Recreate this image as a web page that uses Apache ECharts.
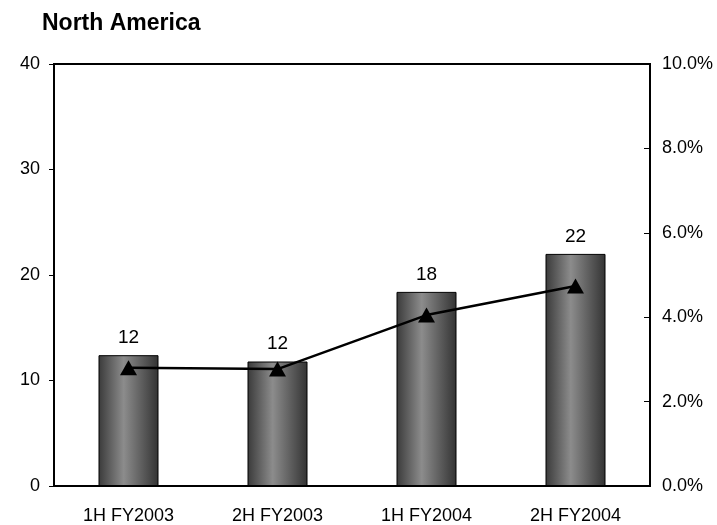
<!DOCTYPE html>
<html>
<head>
<meta charset="utf-8">
<script src="https://cdn.jsdelivr.net/npm/echarts@6/dist/echarts.min.js"></script>
<style>html,body{margin:0;padding:0;background:#fff}#c{width:717px;height:525px}</style>
</head>
<body>
<div id="c"></div>
<script>
const categories = ['1H FY2003', '2H FY2003', '1H FY2004', '2H FY2004'];
const barValues = [12.4, 11.8, 18.4, 22.0];
const lineValues = [2.8, 2.77, 4.05, 4.74];
const title = 'North America';

const chart = echarts.init(document.getElementById('c'), null, {renderer: 'canvas'});
const font = 'Arial, "Liberation Sans", sans-serif';
chart.setOption({
  animation: false,
  backgroundColor: '#fff',
  title: {
    text: title, left: 37, top: 7,
    textStyle: {fontFamily: font, fontSize: 23, fontWeight: 'bold', color: '#000'}
  },
  grid: {left: 54, right: 67, top: 64, bottom: 39, show: true, borderColor: '#000', borderWidth: 2, backgroundColor: 'transparent'},
  xAxis: {
    type: 'category', data: categories,
    axisLine: {lineStyle: {color: '#000', width: 2}},
    axisTick: {show: false},
    axisLabel: {color: '#000', fontFamily: font, fontSize: 18, margin: 21}
  },
  yAxis: [
    {
      type: 'value', min: 0, max: 40, interval: 10,
      axisLine: {show: true, lineStyle: {color: '#000', width: 2}},
      axisTick: {show: true, inside: false, length: 5, lineStyle: {color: '#000', width: 1}},
      splitLine: {show: false},
      axisLabel: {color: '#000', fontFamily: font, fontSize: 18, margin: 14}
    },
    {
      type: 'value', min: 0, max: 10, interval: 2, position: 'right',
      axisLine: {show: true, lineStyle: {color: '#000', width: 2}},
      axisTick: {show: true, inside: true, length: 6, lineStyle: {color: '#000', width: 1}},
      splitLine: {show: false},
      axisLabel: {color: '#000', fontFamily: font, fontSize: 18, margin: 12,
        formatter: v => v.toFixed(1) + '%'}
    }
  ],
  series: [
    {
      type: 'bar', data: barValues, barWidth: 60, yAxisIndex: 0,
      itemStyle: {
        color: new echarts.graphic.LinearGradient(0, 0, 1, 0, [
          {offset: 0, color: '#3a3a3a'},
          {offset: 0.42, color: '#8c8c8c'},
          {offset: 1, color: '#333333'}
        ]),
        borderColor: '#000', borderWidth: 1
      },
      label: {show: true, position: 'top', distance: 8, color: '#000', fontFamily: font, fontSize: 19,
        formatter: p => Math.round(p.value).toString()}
    },
    {
      type: 'line', data: lineValues, yAxisIndex: 1,
      symbol: 'triangle', symbolSize: [17, 15],
      lineStyle: {color: '#000', width: 2.5},
      itemStyle: {color: '#000'},
      z: 5
    }
  ]
});
</script>
</body>
</html>
